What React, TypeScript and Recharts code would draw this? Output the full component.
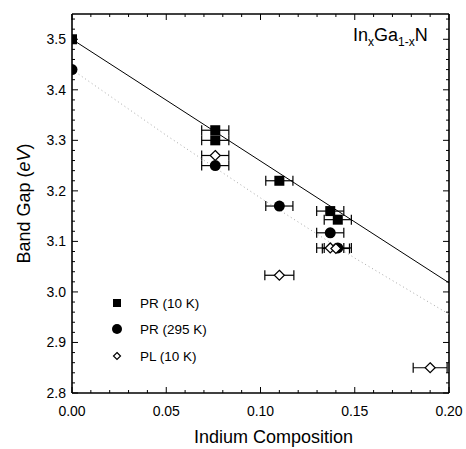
import { ScatterChart, Scatter, XAxis, YAxis, ErrorBar } from "recharts";

// tick labels / positions
const xMajor = [0, 0.05, 0.1, 0.15, 0.2];
const yMajor = [2.8, 2.9, 3.0, 3.1, 3.2, 3.3, 3.4, 3.5];
const xTicks: number[] = [];
for (let i = 0; i <= 20; i++) xTicks.push(+(i * 0.01).toFixed(2));
const yTicks: number[] = [];
for (let i = 0; i <= 37; i++) yTicks.push(+(2.8 + i * 0.02).toFixed(2));

// PR (10 K) — filled squares
const pr10K = [
  { x: 0.0, y: 3.5, err: null },
  { x: 0.076, y: 3.32, err: 0.0072 },
  { x: 0.076, y: 3.3, err: 0.0072 },
  { x: 0.11, y: 3.22, err: 0.0072 },
  { x: 0.137, y: 3.16, err: 0.0072 },
  { x: 0.141, y: 3.143, err: 0.0072 },
];

// PR (295 K) — filled circles
const pr295K = [
  { x: 0.0, y: 3.44, err: null },
  { x: 0.076, y: 3.25, err: 0.0072 },
  { x: 0.11, y: 3.17, err: 0.0072 },
  { x: 0.137, y: 3.117, err: 0.0072 },
  { x: 0.141, y: 3.087, err: 0.0072 },
];

// PL (10 K) — open diamonds
const pl10K = [
  { x: 0.076, y: 3.27, err: 0.0072 },
  { x: 0.11, y: 3.033, err: 0.0077 },
  { x: 0.137, y: 3.087, err: 0.0072 },
  { x: 0.14, y: 3.086, err: 0.0072 },
  { x: 0.19, y: 2.85, err: 0.009 },
];

// fit curves
const fitSolid = [
  { x: 0.0, y: 3.5 },
  { x: 0.2, y: 3.018 },
];
const fitDotted = [
  { x: 0.0, y: 3.44 },
  { x: 0.05, y: 3.31 },
  { x: 0.1, y: 3.186 },
  { x: 0.15, y: 3.067 },
  { x: 0.2, y: 2.956 },
];

const FONT = "'Liberation Sans', Arial, sans-serif";
const axisStyle = { stroke: "#000", strokeWidth: 1.6 };

const near = (list: number[], v: number) => list.some((m) => Math.abs(m - v) < 1e-6);

function makeTick(side: "bottom" | "top" | "left" | "right") {
  return (props: any) => {
    const { x, y, payload } = props;
    const v = payload.value;
    const horiz = side === "bottom" || side === "top";
    const major = horiz ? near(xMajor, v) : near(yMajor, v);
    const len = major ? 6 : 3;
    let x2 = x;
    let y2 = y;
    if (side === "bottom") y2 = y - len;
    if (side === "top") y2 = y + len;
    if (side === "left") x2 = x + len;
    if (side === "right") x2 = x - len;
    return (
      <g>
        <line x1={x} y1={y} x2={x2} y2={y2} stroke="#000" strokeWidth={1} />
        {side === "bottom" && major && (
          <text x={x} y={y + 23} textAnchor="middle" fontSize={14} fontFamily={FONT} fill="#000">
            {v.toFixed(2)}
          </text>
        )}
        {side === "left" && major && (
          <text x={x - 6} y={y + 5} textAnchor="end" fontSize={14} fontFamily={FONT} fill="#000">
            {v.toFixed(1)}
          </text>
        )}
      </g>
    );
  };
}

const Square = (p: any) => (
  <rect x={p.cx - 5} y={p.cy - 5} width={10} height={10} fill="#000" />
);
const Dot = (p: any) => <circle cx={p.cx} cy={p.cy} r={5.5} fill="#000" />;
const Diamond = (p: any) => (
  <polygon
    points={`${p.cx},${p.cy - 5} ${p.cx + 5},${p.cy} ${p.cx},${p.cy + 5} ${p.cx - 5},${p.cy}`}
    fill="#fff"
    stroke="#000"
    strokeWidth={1.2}
  />
);
const NoShape = () => <g />;

const legendRows = [
  { name: "PR (10 K)", top: 303, icon: <rect x={2} y={2} width={8} height={8} fill="#000" /> },
  { name: "PR (295 K)", top: 329, icon: <circle cx={6} cy={6} r={5} fill="#000" /> },
  {
    name: "PL (10 K)",
    top: 356,
    icon: <polygon points="6,2.5 9.5,6 6,9.5 2.5,6" fill="#fff" stroke="#000" strokeWidth={1.2} />,
  },
];

export default function App() {
  return (
    <div style={{ position: "absolute", left: 0, top: 0, width: 466, height: 449, background: "#fff" }}>
      <ScatterChart width={466} height={449} margin={{ top: 0, right: 0, bottom: 0, left: 0 }}>
        <XAxis
          xAxisId="b"
          type="number"
          dataKey="x"
          orientation="bottom"
          domain={[0, 0.2]}
          allowDataOverflow
          ticks={xTicks}
          interval={0}
          tickSize={0}
          tickMargin={0}
          tickLine={false}
          axisLine={axisStyle}
          tick={makeTick("bottom")}
          height={56}
          label={{
            content: (p: any) => (
              <text
                x={p.viewBox.x + p.viewBox.width / 2 + 13}
                y={p.viewBox.y + 50}
                textAnchor="middle"
                fontSize={18}
                fontFamily={FONT}
                fill="#000"
              >
                Indium Composition
              </text>
            ),
          }}
        />
        <XAxis
          xAxisId="t"
          type="number"
          dataKey="x"
          orientation="top"
          domain={[0, 0.2]}
          allowDataOverflow
          ticks={xTicks}
          interval={0}
          tickSize={0}
          tickMargin={0}
          tickLine={false}
          axisLine={axisStyle}
          tick={makeTick("top")}
          height={14}
        />
        <YAxis
          yAxisId="l"
          type="number"
          dataKey="y"
          orientation="left"
          domain={[2.8, 3.55]}
          allowDataOverflow
          ticks={yTicks}
          interval={0}
          tickSize={0}
          tickMargin={0}
          tickLine={false}
          axisLine={axisStyle}
          tick={makeTick("left")}
          width={72}
          label={{
            content: (p: any) => {
              const cy = p.viewBox.y + p.viewBox.height / 2;
              return (
                <text
                  x={30}
                  y={cy}
                  transform={`rotate(-90 30 ${cy})`}
                  textAnchor="middle"
                  fontSize={18}
                  fontFamily={FONT}
                  fill="#000"
                >
                  <tspan>Band Gap (</tspan>
                  <tspan fontStyle="italic">eV</tspan>
                  <tspan>)</tspan>
                </text>
              );
            },
          }}
        />
        <YAxis
          yAxisId="r"
          type="number"
          dataKey="y"
          orientation="right"
          domain={[2.8, 3.55]}
          allowDataOverflow
          ticks={yTicks}
          interval={0}
          tickSize={0}
          tickMargin={0}
          tickLine={false}
          axisLine={axisStyle}
          tick={makeTick("right")}
          width={17}
        />

        <Scatter
          xAxisId="b"
          yAxisId="l"
          data={fitDotted}
          line={{ stroke: "#a8a8a8", strokeWidth: 1, strokeDasharray: "1 3" }}
          shape={NoShape}
          isAnimationActive={false}
        />
        <Scatter
          xAxisId="b"
          yAxisId="l"
          data={fitSolid}
          line={{ stroke: "#000", strokeWidth: 1 }}
          shape={NoShape}
          isAnimationActive={false}
        />
        <Scatter xAxisId="b" yAxisId="l" name="PR (295 K)" data={pr295K} shape={Dot} isAnimationActive={false}>
          <ErrorBar dataKey="err" direction="x" width={5} stroke="#000" strokeWidth={1.2} />
        </Scatter>
        <Scatter xAxisId="b" yAxisId="l" name="PR (10 K)" data={pr10K} shape={Square} isAnimationActive={false}>
          <ErrorBar dataKey="err" direction="x" width={5} stroke="#000" strokeWidth={1.2} />
        </Scatter>
        <Scatter xAxisId="b" yAxisId="l" name="PL (10 K)" data={pl10K} shape={Diamond} isAnimationActive={false}>
          <ErrorBar dataKey="err" direction="x" width={5} stroke="#000" strokeWidth={1.2} />
        </Scatter>
      </ScatterChart>

      {/* title */}
      <div
        style={{
          position: "absolute",
          left: 353,
          top: 24,
          fontFamily: FONT,
          fontSize: 18,
          lineHeight: "22px",
          color: "#000",
          whiteSpace: "nowrap",
        }}
      >
        In<sub style={{ fontSize: 12 }}>x</sub>Ga<sub style={{ fontSize: 12 }}>1-x</sub>N
      </div>

      {/* legend */}
      {legendRows.map((r) => (
        <div
          key={r.name}
          style={{
            position: "absolute",
            left: 111,
            top: r.top - 8,
            height: 16,
            display: "flex",
            alignItems: "center",
            fontFamily: FONT,
            fontSize: 13.5,
            color: "#000",
            whiteSpace: "nowrap",
          }}
        >
          <svg width={12} height={12} style={{ marginRight: 17 }}>
            {r.icon}
          </svg>
          {r.name}
        </div>
      ))}
    </div>
  );
}
